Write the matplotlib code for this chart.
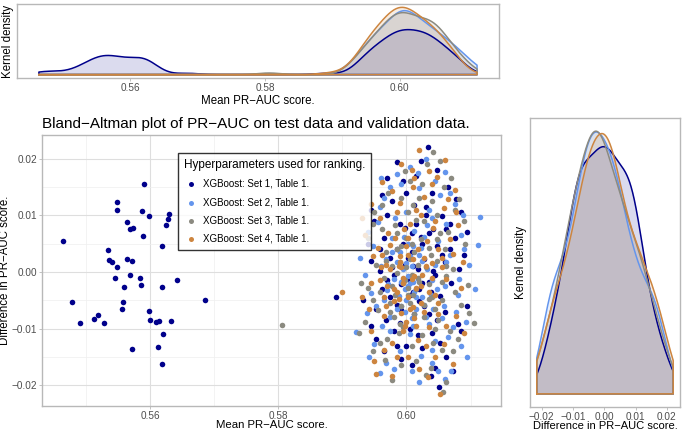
import numpy as np
import matplotlib
matplotlib.use('Agg')
import matplotlib.pyplot as plt
from matplotlib.ticker import MultipleLocator, FuncFormatter

plt.rcParams['font.family'] = ['Liberation Sans', 'DejaVu Sans']

# Mean PR-AUC score (x) and difference test - validation (y)
set1_pts = [
    # left cluster
    (0.5464, 0.0055), (0.5478, -0.0054), (0.5490, -0.0090), (0.5513, -0.0084), (0.5519, -0.0076),
    (0.5528, -0.0090), (0.5534, 0.0038), (0.5536, 0.0021), (0.5540, 0.0018), (0.5546, -0.0010),
    (0.5548, 0.0008), (0.5548, 0.0109), (0.5549, 0.0124), (0.5556, -0.0066), (0.5558, -0.0053),
    (0.5559, -0.0026), (0.5564, 0.0088), (0.5564, 0.0022), (0.5569, 0.0075), (0.5569, -0.0006),
    (0.5572, 0.0019), (0.5574, 0.0077), (0.5572, -0.0136), (0.5584, -0.0011), (0.5586, -0.0024),
    (0.5587, 0.0107), (0.5589, 0.0064), (0.5590, 0.0156), (0.5598, -0.0069), (0.5599, 0.0098),
    (0.5600, -0.0085), (0.5609, -0.0089), (0.5613, -0.0132), (0.5614, -0.0087), (0.5618, 0.0046),
    (0.5619, -0.0027), (0.5618, -0.0162), (0.5621, -0.0110), (0.5625, 0.0083), (0.5628, 0.0094),
    (0.5629, 0.0102), (0.5633, -0.0086), (0.5642, -0.0015), (0.5686, -0.0049),
    # right cluster
    (0.5890, -0.0045), (0.6033, 0.0220), (0.5986, 0.0194), (0.6051, -0.0203), (0.5992, -0.0153),
    (0.6039, -0.0183), (0.6015, 0.0170), (0.6065, 0.0150), (0.5978, 0.0125), (0.6030, 0.0115),
    (0.5950, 0.0090), (0.6055, 0.0098), (0.6008, 0.0068), (0.5940, 0.0050), (0.6075, 0.0060),
    (0.5985, 0.0040), (0.6028, 0.0022), (0.6090, 0.0030), (0.5958, 0.0002), (0.6045, -0.0005),
    (0.5995, -0.0015), (0.6070, -0.0020), (0.5932, -0.0050), (0.6020, -0.0052), (0.6060, -0.0070),
    (0.5968, -0.0085), (0.6005, -0.0100), (0.6040, -0.0108), (0.5952, -0.0118), (0.6080, -0.0092),
    (0.5985, -0.0130), (0.6025, -0.0135), (0.6062, -0.0150), (0.6048, 0.0045), (0.5970, 0.0100),
    (0.6000, 0.0140), (0.6085, 0.0105), (0.5962, -0.0030), (0.6010, 0.0010), (0.6038, -0.0035),
    (0.5975, 0.0025), (0.6095, -0.0060), (0.5945, -0.0095),
    (0.6022, 0.0195), (0.6048, 0.0180), (0.5995, 0.0160), (0.6040, 0.0140), (0.5962, 0.0135),
    (0.6012, 0.0118), (0.6078, 0.0128), (0.5945, 0.0110), (0.5990, 0.0085), (0.6042, 0.0075),
    (0.6068, 0.0085), (0.5965, 0.0060), (0.6025, 0.0050), (0.6002, 0.0025), (0.6060, 0.0018),
    (0.5945, 0.0020), (0.6082, 0.0005), (0.5980, -0.0005), (0.6025, -0.0020), (0.6052, -0.0042),
    (0.5952, -0.0065), (0.5992, -0.0068), (0.6035, -0.0075), (0.6085, -0.0105), (0.5980, -0.0105),
    (0.6018, -0.0112), (0.6052, -0.0125), (0.5965, -0.0140), (0.6008, -0.0165), (0.6045, -0.0170),
    (0.6015, 0.0085), (0.5975, -0.0045), (0.6010, -0.0035), (0.6068, 0.0040), (0.6030, 0.0100),
    (0.5958, 0.0040), (0.6095, 0.0070), (0.6000, -0.0130), (0.6072, -0.0175), (0.5970, 0.0165),
    (0.5992, -0.0022), (0.6005, -0.0040), (0.6018, 0.0005), (0.5998, 0.0012), (0.6028, -0.0060),
    (0.5985, -0.0058), (0.6012, -0.0075), (0.6042, 0.0002), (0.5978, 0.0008), (0.6002, -0.0012),
    (0.6020, -0.0030), (0.5990, -0.0090), (0.6035, -0.0018), (0.6008, 0.0035), (0.5970, -0.0015),
    (0.6048, -0.0085), (0.6022, 0.0062), (0.5995, 0.0050), (0.6055, 0.0030), (0.6062, 0.0075),
    (0.5998, 0.0078), (0.6035, 0.0068),
]

set2_pts = [
    (0.6115, 0.0097), (0.6112, 0.0048), (0.6107, -0.0030), (0.6093, -0.0088), (0.5921, -0.0106),
    (0.6060, -0.0189), (0.6070, -0.0175), (0.6008, -0.0175), (0.6030, 0.0200), (0.6006, 0.0185),
    (0.5985, 0.0172), (0.6045, 0.0160), (0.6060, 0.0176), (0.5965, 0.0130), (0.6020, 0.0148),
    (0.6075, 0.0120), (0.5955, 0.0088), (0.6000, 0.0105), (0.6040, 0.0095), (0.6085, 0.0065),
    (0.5978, 0.0060), (0.6012, 0.0072), (0.5948, 0.0045), (0.6050, 0.0055), (0.6068, 0.0030),
    (0.5990, 0.0035), (0.6025, 0.0020), (0.5960, 0.0010), (0.6098, 0.0012), (0.5935, -0.0005),
    (0.6003, -0.0008), (0.6040, -0.0015), (0.5972, -0.0022), (0.6080, -0.0040), (0.5945, -0.0038),
    (0.6015, -0.0045), (0.6058, -0.0060), (0.5985, -0.0065), (0.5938, -0.0072), (0.6030, -0.0080),
    (0.6072, -0.0098), (0.5962, -0.0095), (0.6005, -0.0110), (0.6045, -0.0122), (0.5950, -0.0128),
    (0.5990, -0.0140), (0.6085, -0.0130), (0.6022, -0.0148), (0.5968, -0.0160), (0.6040, -0.0160),
    (0.5958, -0.0178), (0.6095, -0.0150), (0.6010, 0.0045), (0.6035, 0.0110), (0.5975, 0.0150),
    (0.6062, 0.0085), (0.6090, 0.0040), (0.5928, 0.0025), (0.6048, -0.0030), (0.5998, -0.0030),
    (0.6065, -0.0115), (0.5942, -0.0150), (0.6020, -0.0195), (0.6000, 0.0015), (0.6027, -0.0058),
    (0.5982, 0.0095), (0.6052, 0.0135), (0.6078, -0.0070), (0.5965, -0.0050),
    (0.6018, 0.0175), (0.5992, 0.0155), (0.6068, 0.0140), (0.5958, 0.0115), (0.6032, 0.0082),
    (0.6002, 0.0050), (0.5968, 0.0022), (0.6045, 0.0012), (0.6082, -0.0012), (0.5952, -0.0060),
    (0.6010, -0.0018), (0.6035, -0.0092), (0.5975, -0.0105), (0.6055, -0.0082), (0.5992, -0.0060),
    (0.6020, 0.0030), (0.6062, 0.0018), (0.5940, 0.0070), (0.6040, -0.0138), (0.5980, -0.0172),
    (0.6050, -0.0175), (0.6028, 0.0062), (0.6008, -0.0082), (0.5960, 0.0165), (0.6088, 0.0100),
    (0.6002, -0.0025), (0.5995, 0.0005), (0.6012, -0.0035), (0.5988, -0.0042), (0.6008, 0.0010),
    (0.6018, -0.0012), (0.5980, -0.0012), (0.6025, -0.0045), (0.5998, -0.0070), (0.6005, 0.0028),
    (0.5992, -0.0018), (0.6015, -0.0065), (0.5978, 0.0035), (0.6032, 0.0005), (0.6000, -0.0050),
    (0.5985, 0.0018), (0.6010, -0.0095), (0.6038, -0.0040), (0.5970, -0.0032), (0.6022, 0.0042),
    (0.5996, 0.0062), (0.6042, -0.0065), (0.5975, -0.0080), (0.6005, -0.0020), (0.6060, -0.0025),
]

set3_pts = [
    (0.5806, -0.0093),
    (0.6105, -0.0090), (0.6096, -0.0023), (0.5926, -0.0108), (0.5929, -0.0019), (0.6042, 0.0212),
    (0.6057, -0.0212), (0.5967, -0.0155), (0.6039, -0.0169), (0.6052, 0.0195), (0.5998, 0.0178),
    (0.6070, 0.0165), (0.5972, 0.0140), (0.6025, 0.0155), (0.6082, 0.0128), (0.5950, 0.0105),
    (0.6010, 0.0118), (0.6048, 0.0100), (0.5982, 0.0082), (0.6065, 0.0070), (0.5940, 0.0060),
    (0.6022, 0.0058), (0.6092, 0.0050), (0.5968, 0.0035), (0.6038, 0.0030), (0.6005, 0.0022),
    (0.5952, 0.0012), (0.6072, 0.0005), (0.5985, -0.0002), (0.6018, -0.0010), (0.6055, -0.0018),
    (0.5940, -0.0028), (0.6002, -0.0040), (0.6035, -0.0048), (0.5975, -0.0055), (0.6085, -0.0058),
    (0.5955, -0.0068), (0.6012, -0.0075), (0.6050, -0.0085), (0.5990, -0.0092), (0.5935, -0.0088),
    (0.6068, -0.0105), (0.6025, -0.0112), (0.5970, -0.0118), (0.6008, -0.0130), (0.6055, -0.0138),
    (0.5948, -0.0140), (0.6080, -0.0118), (0.5992, -0.0165), (0.6030, -0.0182), (0.6062, -0.0195),
    (0.5962, 0.0075), (0.6040, 0.0125), (0.5992, 0.0130), (0.6000, 0.0060), (0.6060, 0.0040),
    (0.5965, -0.0010), (0.6030, 0.0008), (0.6075, -0.0035), (0.5995, -0.0020), (0.6045, -0.0065),
    (0.5980, -0.0080), (0.6015, 0.0092), (0.5958, -0.0035), (0.6015, -0.0030), (0.6090, 0.0090),
    (0.6032, 0.0190), (0.6005, 0.0160), (0.6058, 0.0150), (0.5962, 0.0118), (0.6028, 0.0090),
    (0.6075, 0.0110), (0.5948, 0.0085), (0.5992, 0.0045), (0.6048, 0.0058), (0.5978, 0.0010),
    (0.6008, -0.0005), (0.6062, -0.0008), (0.5948, -0.0050), (0.6028, -0.0058), (0.5988, -0.0108),
    (0.6042, -0.0125), (0.6098, -0.0072), (0.5958, -0.0125), (0.6015, -0.0158), (0.5978, -0.0190),
    (0.6072, -0.0140), (0.6002, 0.0105), (0.6035, -0.0022), (0.5985, 0.0068), (0.6020, 0.0130),
    (0.5998, -0.0015), (0.6005, -0.0055), (0.5990, 0.0018), (0.6012, 0.0035), (0.5982, -0.0040),
    (0.6020, -0.0018), (0.6000, 0.0008), (0.5975, -0.0070), (0.6028, -0.0080), (0.5995, -0.0098),
    (0.6010, -0.0040), (0.5985, 0.0040), (0.6040, -0.0045), (0.5968, 0.0020), (0.6018, 0.0012),
    (0.6002, -0.0028), (0.5992, -0.0060), (0.6048, 0.0020), (0.6055, -0.0050), (0.5978, -0.0025),
    (0.6008, 0.0050), (0.6035, 0.0042), (0.6062, 0.0010), (0.6052, 0.0068), (0.6045, -0.0100),
]

set4_pts = [
    (0.5899, -0.0035), (0.6019, 0.0215), (0.6053, -0.0215), (0.5953, -0.0180), (0.5977, -0.0183),
    (0.6034, -0.0185), (0.6060, 0.0198), (0.5992, 0.0190), (0.6035, 0.0178), (0.5962, 0.0158),
    (0.6012, 0.0165), (0.6075, 0.0145), (0.5945, 0.0120), (0.5990, 0.0122), (0.6028, 0.0132),
    (0.6058, 0.0112), (0.5958, 0.0095), (0.6005, 0.0085), (0.6042, 0.0078), (0.6080, 0.0082),
    (0.5935, 0.0065), (0.5975, 0.0048), (0.6018, 0.0040), (0.6055, 0.0025), (0.6088, 0.0018),
    (0.5948, 0.0028), (0.5992, 0.0008), (0.6025, -0.0005), (0.6062, -0.0012), (0.5958, -0.0015),
    (0.5930, -0.0045), (0.5988, -0.0048), (0.6022, -0.0025), (0.6010, -0.0062), (0.6045, -0.0040),
    (0.6078, -0.0078), (0.5965, -0.0078), (0.6000, -0.0088), (0.6035, -0.0098), (0.5945, -0.0105),
    (0.5978, -0.0125), (0.6018, -0.0120), (0.6058, -0.0128), (0.6090, -0.0108), (0.5950, -0.0158),
    (0.6002, -0.0150), (0.6045, -0.0150), (0.6072, -0.0162), (0.5985, 0.0105), (0.6032, 0.0055),
    (0.5968, 0.0012), (0.6040, 0.0015), (0.6002, 0.0030), (0.5980, -0.0030), (0.6050, -0.0055),
    (0.6015, 0.0110), (0.5955, 0.0042), (0.6068, 0.0058), (0.5942, -0.0065), (0.6028, -0.0070),
    (0.6012, -0.0008), (0.5972, 0.0068), (0.6048, 0.0168), (0.5995, -0.0105), (0.6085, -0.0028),
    (0.6008, 0.0180), (0.6040, 0.0155), (0.5978, 0.0142), (0.6065, 0.0128), (0.5930, 0.0095),
    (0.6022, 0.0100), (0.6002, 0.0060), (0.6050, 0.0040), (0.5962, 0.0030), (0.6030, 0.0010),
    (0.5995, -0.0010), (0.6072, 0.0032), (0.5945, -0.0020), (0.6035, -0.0035), (0.5968, -0.0060),
    (0.6015, -0.0095), (0.6062, -0.0095), (0.5985, -0.0150), (0.6030, -0.0130), (0.5965, -0.0138),
    (0.6020, -0.0172), (0.6078, 0.0105), (0.6045, 0.0090), (0.5990, 0.0018), (0.6010, 0.0150),
    (0.5995, -0.0020), (0.5988, 0.0010), (0.6002, -0.0045), (0.5980, -0.0052), (0.6010, 0.0022),
    (0.5992, -0.0072), (0.6015, -0.0028), (0.5975, 0.0005), (0.6000, 0.0045), (0.5985, -0.0035),
    (0.6008, -0.0012), (0.5970, -0.0025), (0.6022, -0.0055), (0.5998, -0.0095), (0.5990, 0.0028),
    (0.6005, -0.0065), (0.5982, 0.0060), (0.6028, 0.0025), (0.5965, -0.0045), (0.6012, -0.0082),
    (0.6040, -0.0010), (0.6050, -0.0075), (0.6055, 0.0008), (0.5996, 0.0075), (0.5960, 0.0008),
]

labels = ['XGBoost: Set 1, Table 1.', 'XGBoost: Set 2, Table 1.',
          'XGBoost: Set 3, Table 1.', 'XGBoost: Set 4, Table 1.']
colors = ['#00008B', '#6495ED', '#8B8A80', '#CD853F']
sets = [np.array(p) for p in (set1_pts, set2_pts, set3_pts, set4_pts)]

bw_mean = 0.0017   # kernel bandwidth for the mean-score densities


def kde(vals, grid, bw=None):
    # gaussian kernel, R's bw.nrd0 bandwidth unless given
    n = len(vals)
    if bw is None:
        iqr = np.subtract(*np.percentile(vals, [75, 25]))
        bw = 0.9 * min(np.std(vals, ddof=1), iqr / 1.34) * n ** -0.2
    z = (grid[:, None] - vals[None, :]) / bw
    return np.exp(-0.5 * z ** 2).sum(axis=1) / (n * bw * np.sqrt(2 * np.pi))


def minus(x, pos):
    return f'{x:.2f}'.replace('-', '\u2212')


all_x = np.concatenate([s[:, 0] for s in sets])
all_y = np.concatenate([s[:, 1] for s in sets])
xlim = (all_x.min() - 0.05 * np.ptp(all_x), all_x.max() + 0.05 * np.ptp(all_x))
ylim = (all_y.min() - 0.05 * np.ptp(all_y), all_y.max() + 0.05 * np.ptp(all_y))

tick_col = '#4d4d4d'
frame_col = '#b8b8b8'

fig = plt.figure(figsize=(6.85, 4.33), dpi=100)
ax_top = fig.add_axes([0.0248, 0.8199, 0.7036, 0.1709])
ax = fig.add_axes([0.0613, 0.0624, 0.6701, 0.6259])
ax_r = fig.add_axes([0.7737, 0.0600, 0.2190, 0.6674])

# scatter
for s, c, lab in zip(sets, colors, labels):
    ax.scatter(s[:, 0], s[:, 1], s=16, color=c, linewidths=0, label=lab, zorder=3)
ax.set_xlim(xlim)
ax.set_ylim(ylim)
ax.xaxis.set_major_locator(MultipleLocator(0.02))
ax.xaxis.set_minor_locator(MultipleLocator(0.01))
ax.yaxis.set_major_locator(MultipleLocator(0.01))
ax.yaxis.set_minor_locator(MultipleLocator(0.005))
ax.xaxis.set_major_formatter(FuncFormatter(minus))
ax.yaxis.set_major_formatter(FuncFormatter(minus))
ax.grid(True, which='major', color='#dedede', lw=0.8, zorder=0)
ax.grid(True, which='minor', color='#efefef', lw=0.5, zorder=0)
ax.tick_params(which='major', length=2.5, width=0.6, color=frame_col, labelcolor=tick_col, labelsize=7.2, pad=1.0)
ax.tick_params(which='minor', length=0)
ax.set_xlabel('Mean PR\u2212AUC score.', fontsize=8.2)
ax.xaxis.set_label_coords(0.5, -0.0535)
ax.set_ylabel('Difference in PR\u2212AUC score.', fontsize=8.3)
ax.yaxis.set_label_coords(-0.067, 0.5)
ax.set_title('Bland\u2212Altman plot of PR\u2212AUC on test data and validation data.',
             fontsize=11, loc='left', pad=5)
leg = ax.legend(loc='upper left', bbox_to_anchor=(0.296, 0.934), borderaxespad=0,
                title='Hyperparameters used for ranking.', title_fontsize=8.5, fontsize=7,
                frameon=True, fancybox=False, edgecolor='black', markerscale=0.9,
                handletextpad=0.5, labelspacing=0.85, borderpad=0.6, handlelength=1.5)
leg.get_frame().set_linewidth(1.0)
leg._legend_box.align = 'left'

# marginal densities
gx = np.linspace(all_x.min(), all_x.max(), 512)
gy = np.linspace(all_y.min(), all_y.max(), 512)
top_max = 0
r_max = 0
for s, c in zip(sets, colors):
    dx = kde(s[:, 0], gx, bw_mean)
    dy = kde(s[:, 1], gy)
    top_max = max(top_max, dx.max())
    r_max = max(r_max, dy.max())
    ax_top.fill_between(gx, 0, dx, color=c, alpha=0.14, lw=0)
    ax_top.plot(np.r_[gx[0], gx, gx[-1], gx[0]], np.r_[0, dx, 0, 0], color=c, lw=1.1)
    ax_r.fill_between(gy, 0, dy, color=c, alpha=0.14, lw=0)
    ax_r.plot(np.r_[gy[0], gy, gy[-1], gy[0]], np.r_[0, dy, 0, 0], color=c, lw=1.1)

ax_top.set_xlim(xlim)
ax_top.set_ylim(-0.05 * top_max, 1.05 * top_max)
ax_top.xaxis.set_major_locator(MultipleLocator(0.02))
ax_top.xaxis.set_major_formatter(FuncFormatter(minus))
ax_top.set_yticks([])
ax_top.tick_params(axis='x', length=2.5, width=0.6, color=frame_col, labelcolor=tick_col, labelsize=7.2, pad=1.2)
ax_top.set_xlabel('Mean PR\u2212AUC score.', fontsize=8.3, labelpad=1.5)
ax_top.set_ylabel('Kernel density', fontsize=8.3)
ax_top.yaxis.set_label_coords(-0.006, 0.5)

ax_r.set_xlim(ylim)
ax_r.set_ylim(-0.05 * r_max, 1.05 * r_max)
ax_r.xaxis.set_major_locator(MultipleLocator(0.01))
ax_r.xaxis.set_major_formatter(FuncFormatter(minus))
ax_r.set_yticks([])
ax_r.tick_params(axis='x', length=2.5, width=0.6, color=frame_col, labelcolor=tick_col, labelsize=7.2, pad=1.2)
ax_r.set_xlabel('Difference in PR\u2212AUC score.', fontsize=8)
ax_r.xaxis.set_label_coords(0.5, -0.05)
ax_r.set_ylabel('Kernel density', fontsize=8.3)
ax_r.yaxis.set_label_coords(-0.02, 0.5)

for a in (ax, ax_top, ax_r):
    for sp in a.spines.values():
        sp.set_color(frame_col)
        sp.set_linewidth(1.0)

fig.savefig('out.png', dpi=100)
